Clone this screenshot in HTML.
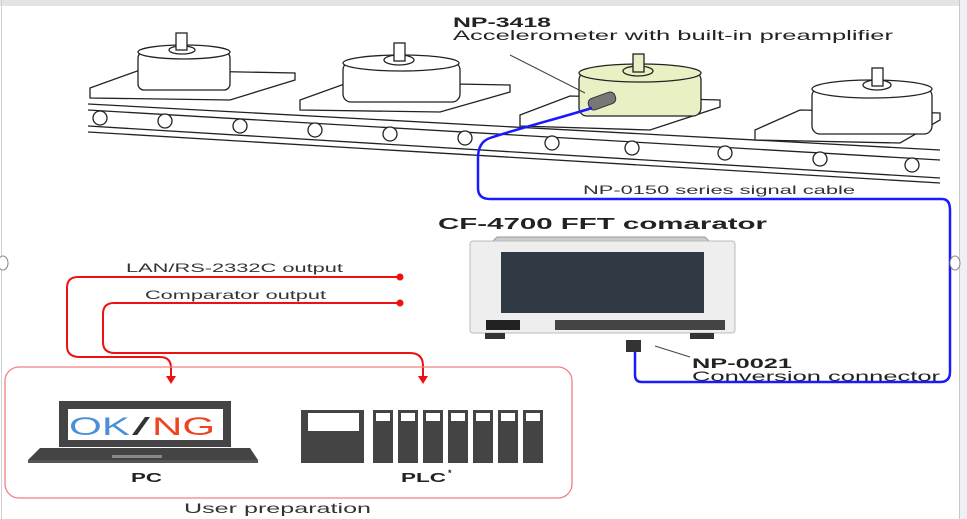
<!DOCTYPE html>
<html><head><meta charset="utf-8"><style>
html,body{margin:0;padding:0;background:#fff}
svg{display:block}
text{font-family:"Liberation Sans",Arial,sans-serif}
</style></head><body>
<svg width="967" height="519" viewBox="0 0 967 519" xmlns="http://www.w3.org/2000/svg">
<rect x="0" y="0" width="967" height="519" fill="#fff"/>
<rect x="0" y="0" width="967" height="6" fill="#e4e4e4"/>
<rect x="960" y="0" width="7" height="519" fill="#eef0f4"/>
<line x1="959.5" y1="0" x2="959.5" y2="519" stroke="#c8c8c8"/>
<line x1="1.5" y1="0" x2="1.5" y2="519" stroke="#d0d0d0"/>

<!-- belt -->
<g stroke="#222" stroke-width="1.3" fill="none">
<line x1="88" y1="104" x2="940" y2="150"/>
<line x1="88" y1="110" x2="940" y2="160"/>
<line x1="88" y1="126" x2="940" y2="178"/>
<line x1="88" y1="132" x2="940" y2="183"/>
</g>
<g fill="#fff" stroke="#222" stroke-width="1.3">
<circle cx="100" cy="118" r="7"/><circle cx="165" cy="121" r="7"/><circle cx="240" cy="126" r="7"/><circle cx="315" cy="130" r="7"/><circle cx="390" cy="134" r="7"/><circle cx="465" cy="138" r="7"/><circle cx="552" cy="143" r="7"/><circle cx="632" cy="148" r="7"/><circle cx="725" cy="153" r="7"/><circle cx="820" cy="159" r="7"/><circle cx="912" cy="165" r="7"/>
</g>
<!-- platforms and motors -->
<g stroke="#222" stroke-width="1.3" fill="#fff">
<polygon points="90,88 140,70 295,73 295,80 230,100 90,98"/>
<rect x="138" y="52" width="92" height="38" rx="6"/>
<ellipse cx="184" cy="52" rx="46" ry="7"/>
<ellipse cx="182" cy="50" rx="13" ry="4"/>
<rect x="176" y="33" width="11" height="17"/>
<polygon points="300,100 350,82 510,85 510,92 440,112 300,110"/>
<rect x="343" y="62" width="117" height="40" rx="8"/>
<ellipse cx="401" cy="63" rx="58" ry="8"/>
<ellipse cx="399" cy="60" rx="15" ry="5"/>
<rect x="394" y="43" width="11" height="18"/>
<polygon points="520,115 570,96 720,100 720,107 650,130 520,126"/>
<rect x="579" y="72" width="122" height="44" rx="8" fill="#e9f0c4"/>
<ellipse cx="640" cy="73" rx="61" ry="9" fill="#e9f0c4"/>
<ellipse cx="638" cy="71" rx="15" ry="5" fill="#e9f0c4"/>
<rect x="633" y="54" width="11" height="18" fill="#e9f0c4"/>
<polygon points="755,130 800,110 940,113 940,120 900,143 755,140"/>
<rect x="812" y="88" width="120" height="46" rx="8"/>
<ellipse cx="872" cy="89" rx="60" ry="9"/>
<ellipse cx="877" cy="85" rx="14" ry="5"/>
<rect x="872" y="68" width="11" height="18"/>
</g>
<line x1="510" y1="55" x2="585" y2="93" stroke="#444" stroke-width="1"/>
<rect x="588" y="95" width="28" height="12" rx="5" fill="#777" stroke="#333" transform="rotate(-20 602 101)"/>

<!-- blue cable -->
<path d="M592,108 C560,118 520,128 490,138 Q478,142 478,158 L478,188 Q478,199 490,199 L942,199 Q950,199 950,210 L950,372 Q950,382 940,382 L642,382 Q635,382 635,375 L635,350" fill="none" stroke="#1a1aff" stroke-width="2.5"/>

<text x="453" y="27" font-size="14" font-weight="bold" fill="#222" textLength="98" lengthAdjust="spacingAndGlyphs">NP-3418</text>
<text x="453" y="40" font-size="14" fill="#222" textLength="440" lengthAdjust="spacingAndGlyphs">Accelerometer with built-in preamplifier</text>
<text x="583" y="194" font-size="12" fill="#333" textLength="272" lengthAdjust="spacingAndGlyphs">NP-0150 series signal cable</text>
<text x="438" y="229" font-size="16" font-weight="bold" fill="#222" textLength="329" lengthAdjust="spacingAndGlyphs">CF-4700  FFT comarator</text>

<!-- device -->
<path d="M488,246 L497,237 L705,237 L714,246 Z" fill="#ccc" stroke="#999"/>
<rect x="470" y="241" width="265" height="92" rx="3" fill="#eeeeee" stroke="#bbb"/>
<rect x="501" y="252" width="203" height="61" fill="#2f3a44"/>
<rect x="486" y="320" width="34" height="10" fill="#222"/>
<rect x="555" y="320" width="170" height="10" fill="#444"/>
<rect x="485" y="333" width="20" height="6" fill="#333"/>
<rect x="690" y="333" width="24" height="6" fill="#333"/>
<rect x="626" y="340" width="15" height="12" fill="#333"/>
<line x1="655" y1="346" x2="690" y2="357" stroke="#444"/>
<text x="692" y="368" font-size="14" font-weight="bold" fill="#222" textLength="100" lengthAdjust="spacingAndGlyphs">NP-0021</text>
<text x="692" y="381" font-size="14" fill="#222" textLength="248" lengthAdjust="spacingAndGlyphs">Conversion connector</text>

<!-- red lines -->
<g fill="none" stroke="#ee1111" stroke-width="2">
<path d="M400,277 L78,277 Q67,277 67,288 L67,346 Q67,357 80,357 L160,357 Q171,357 171,368 L171,378"/>
<path d="M400,303 L114,303 Q103,303 103,314 L103,342 Q103,353 115,353 L410,353 Q423,353 423,366 L423,378"/>
</g>
<circle cx="400" cy="277" r="3.5" fill="#ee1111"/>
<circle cx="400" cy="303" r="3.5" fill="#ee1111"/>
<polygon points="166,376 176,376 171,384" fill="#ee1111"/>
<polygon points="418,376 428,376 423,384" fill="#ee1111"/>
<text x="126" y="272" font-size="12" fill="#333" textLength="217" lengthAdjust="spacingAndGlyphs">LAN/RS-2332C output</text>
<text x="145" y="299" font-size="12" fill="#333" textLength="181" lengthAdjust="spacingAndGlyphs">Comparator output</text>

<rect x="5" y="367" width="567" height="131" rx="14" fill="none" stroke="#f08080" stroke-width="1.3"/>

<!-- laptop -->
<rect x="59" y="401" width="172" height="46" fill="#444"/>
<rect x="68" y="409" width="155" height="31" fill="#fff"/>
<text x="69" y="435" font-size="25" fill="#4a90d9" textLength="61" lengthAdjust="spacingAndGlyphs">OK</text>
<text x="132" y="435" font-size="25" fill="#333" textLength="18" lengthAdjust="spacingAndGlyphs">/</text>
<text x="152" y="435" font-size="25" fill="#ee4422" textLength="63" lengthAdjust="spacingAndGlyphs">NG</text>
<polygon points="40,448 250,448 258,460 28,460" fill="#444"/>
<rect x="28" y="460" width="230" height="3" fill="#555"/>
<rect x="112" y="455" width="50" height="3" fill="#888"/>

<!-- PLC -->
<rect x="301" y="410" width="63" height="53" fill="#444"/>
<rect x="308" y="413" width="51" height="18" fill="#fff"/>
<g fill="#444">
<rect x="373" y="410" width="20" height="53"/><rect x="398" y="410" width="20" height="53"/><rect x="423" y="410" width="20" height="53"/><rect x="448" y="410" width="20" height="53"/><rect x="473" y="410" width="20" height="53"/><rect x="498" y="410" width="20" height="53"/><rect x="523" y="410" width="20" height="53"/>
</g>
<g fill="#fff">
<rect x="376" y="413" width="14" height="8"/><rect x="401" y="413" width="14" height="8"/><rect x="426" y="413" width="14" height="8"/><rect x="451" y="413" width="14" height="8"/><rect x="476" y="413" width="14" height="8"/><rect x="501" y="413" width="14" height="8"/><rect x="526" y="413" width="14" height="8"/>
</g>
<text x="131" y="482" font-size="13" font-weight="bold" fill="#222" textLength="31" lengthAdjust="spacingAndGlyphs">PC</text>
<text x="401" y="482" font-size="13" font-weight="bold" fill="#222" textLength="45" lengthAdjust="spacingAndGlyphs">PLC</text>
<text x="448" y="476" font-size="9" font-weight="bold" fill="#222">*</text>
<text x="184" y="513" font-size="14" fill="#333" textLength="187" lengthAdjust="spacingAndGlyphs">User preparation</text>

<ellipse cx="3" cy="263" rx="5" ry="7" fill="#fff" stroke="#888"/>
<ellipse cx="955" cy="263" rx="5" ry="7" fill="#fff" stroke="#888"/>
</svg>
</body></html>
